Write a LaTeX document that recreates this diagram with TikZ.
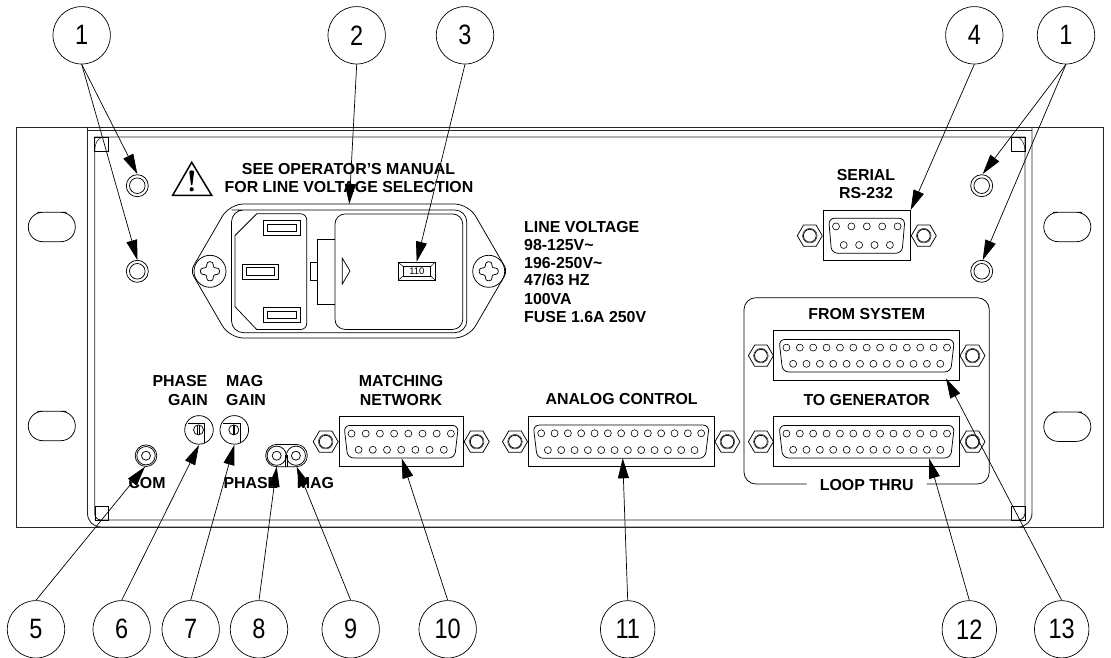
\documentclass[tikz,border=0pt]{standalone}
\usepackage{fontspec}
\setmainfont{Liberation Sans}
\usetikzlibrary{arrows.meta,shapes.geometric}
\newcommand{\narrowdigits}[1]{\scalebox{.84}[1]{#1}}
\tikzset{
  panel/.style={line width=.9pt,draw=black!85},
  part/.style={line width=.75pt,draw=black},
  leaderline/.style={line width=.7pt,-{Triangle[length=20pt,width=11pt]}},
  balloon/.style={draw,line width=.7pt,ellipse,minimum width=57.4pt,minimum height=57.4pt,inner sep=0pt,font=\fontsize{28}{30}\selectfont},
  balloonn/.style={balloon,minimum width=54.4pt},
  lbl/.style={inner sep=0pt,font=\fontsize{15.9}{18}\bfseries\selectfont,anchor=base},
  lbll/.style={lbl,anchor=base west},
  lblr/.style={lbl,anchor=base east},
}
\newcommand{\hexnut}[2]{%
  \draw[part] (#1-12.5,#2) -- (#1-6.3,#2-10.6) -- (#1+6.3,#2-10.6) -- (#1+12.5,#2) -- (#1+6.3,#2+10.6) -- (#1-6.3,#2+10.6) -- cycle;
  \draw[part] (#1,#2) circle[radius=6.4];
  \draw[part,line width=.4pt] (#1,#2) circle[radius=7.3];
}
% cx cy rect-half shell-top-half shell-bottom-half nut-offset n pitch shell-half-height
\newcommand{\dsubconn}[9]{%
  \draw[part] (#1-#3,#2-25) rectangle (#1+#3,#2+25);
  \draw[part,rounded corners=6pt] (#1-#4,#2-#9) -- (#1+#4,#2-#9) -- (#1+#5,#2+#9) -- (#1-#5,#2+#9) -- cycle;
  \foreach \i in {1,...,#7}{\draw[part,line width=.6pt] (#1+\i*#8-#7*#8/2-#8/2,#2-#9+8.2) circle[radius=3.5];}
  \pgfmathtruncatemacro{\nb}{#7-1}
  \foreach \i in {1,...,\nb}{\draw[part,line width=.6pt] (#1+\i*#8-#7*#8/2,#2+#9-8.2) circle[radius=3.5];}
  \hexnut{#1-#6}{#2}
  \hexnut{#1+#6}{#2}
}
\newcommand{\stud}[2]{%
  \draw[part] (#1,#2) circle[radius=11];
  \draw[part] (#1,#2) circle[radius=7.8];
}
\newcommand{\slotb}[2]{%
  \draw[part,rounded corners=14.5pt] (#1,#2) -- ++(23.5,0) -- ++(0,29.4) -- ++(-47,0) -- ++(0,-29.4) -- cycle;
}
\newcommand{\cross}[2]{%
  \draw[part] (#1,#2) circle[radius=16];
  \draw[part,rounded corners=2.6pt] (#1-3.2,#2-9.5) -- (#1+3.2,#2-9.5) -- (#1+3.2,#2-3.2) -- (#1+9.5,#2-3.2) -- (#1+9.5,#2+3.2) -- (#1+3.2,#2+3.2) -- (#1+3.2,#2+9.5) -- (#1-3.2,#2+9.5) -- (#1-3.2,#2+3.2) -- (#1-9.5,#2+3.2) -- (#1-9.5,#2-3.2) -- (#1-3.2,#2-3.2) -- cycle;
}
\newcommand{\trim}[2]{%
  \draw[part] (#1,#2) circle[radius=14.3];
  \draw[part] (#1-11,#2-6.3) -- (#1+5.6,#2-6.3) -- (#1+5.6,#2+13.2);
  \draw[part] (#1-.5,#2) circle[radius=5];
  \draw[part,line width=.5pt] (#1-1.4,#2-5) -- (#1-1.4,#2+5) (#1+.4,#2-5) -- (#1+.4,#2+5);
}
\newcommand{\pinblade}[3]{%
  \draw[part] (#1,#2) rectangle (#1+#3,#2+15);
  \draw[part] (#1+3.8,#2+3.7) rectangle (#1+#3-3.8,#2+11);
}
\begin{document}
\begin{tikzpicture}[x=1pt,y=-1pt]
\useasboundingbox (0,0) rectangle (1111,658);
% panel
\draw[panel] (16,127) rectangle (1103,527);
\draw[panel] (87.5,127) -- (87.5,513) .. controls (87.5,521) and (93,527) .. (101,527) -- (1018,527) .. controls (1026,527) and (1032,521) .. (1032,513) -- (1032,127);
\draw[panel] (87.5,130.7) -- (1032,130.7);
\draw[panel] (94.7,137) -- (94.7,513) .. controls (94.7,517) and (97,520) .. (101,520) -- (1018,520) .. controls (1022,520) and (1025,517) .. (1025,513) -- (1025,137) -- cycle;
% corner tabs
\draw[part,line width=.45pt] (94.7,137) rectangle (108.7,151.7);
\draw[part,line width=.45pt] (94.7,151.2) .. controls (95,143) and (97.5,138) .. (103,137);
\draw[part,line width=.45pt] (1011,137) rectangle (1025,151.7);
\draw[part,line width=.45pt] (1025,151.2) .. controls (1024.7,143) and (1022,138) .. (1016.5,137);
\draw[part,line width=.45pt] (95,506) rectangle (108.5,520);
\draw[part,line width=.45pt] (1011,506) rectangle (1025,520);
% rack slots
\slotb{51.8}{212.3}
\slotb{51.8}{411.3}
\slotb{1067.3}{212.3}
\slotb{1067.3}{412}
% mounting studs
\stud{137.3}{185.7}
\stud{137.3}{271.3}
\stud{981.7}{185.7}
\stud{981.7}{271.3}
% warning triangle
\draw[line width=1.5pt,line join=miter] (191.7,162.3) -- (211.7,195.3) -- (172.7,195.3) -- cycle;
\fill (189.3,171.7) .. controls (189.3,170) and (194.1,170) .. (194.1,171.7) -- (192.4,185) -- (191,185) -- cycle;
\fill (191.7,189.3) circle[radius=2.1];
% power entry module
\draw[part] (349,204) [rounded corners=14pt] -- (229.5,204) [rounded corners=6pt] -- (190.6,271) [rounded corners=14pt] -- (229.5,338) -- (468.5,338) [rounded corners=6pt] -- (507.4,271) [rounded corners=14pt] -- (468.5,204) [sharp corners] -- (349,204);
\draw[part] (231.5,210) [rounded corners=12pt] -- (466.8,210) -- (466.8,332.7) -- (231.5,332.7) -- (231.5,210) -- (300,210);
\draw[part] (256.7,213.8) [rounded corners=6pt] -- (306.7,213.8) -- (306.7,329.5) [sharp corners] -- (256.7,329.5) -- (235,306.7) -- (235,235.5) -- cycle;
\pinblade{263.3}{220.7}{36.7}
\pinblade{242.3}{264}{36}
\pinblade{263.3}{307.3}{36.7}
\draw[part] (317.3,239.3) rectangle (335,304);
\draw[part] (310,262.3) rectangle (317.3,280);
\draw[part,rounded corners=10pt,fill=white] (335,214) rectangle (462.7,329.4);
\draw[part] (342.3,258.3) -- (350,271) -- (342.3,284) -- cycle;
\draw[part,line width=1pt] (398.3,262.3) rectangle (435,280);
\draw[part] (403.3,266.7) rectangle (430.7,276);
\draw[part,line width=.5pt] (398.3,262.3) -- (403.3,266.7) (435,262.3) -- (430.7,266.7) (398.3,280) -- (403.3,276) (435,280) -- (430.7,276);
\node[inner sep=0pt,font=\fontsize{9.5}{10}\selectfont] (fuseval) at (416.9,271.4) {110};
\cross{210}{271.3}
\cross{488.7}{271.3}
% connectors
\dsubconn{866.8}{235.7}{43.5}{38.2}{35.2}{57}{5}{15.4}{17.5}
\dsubconn{401.2}{441.7}{62.2}{57.2}{53.5}{75.5}{8}{14.2}{16.3}
\dsubconn{621.2}{441.7}{92.8}{88}{84}{106.2}{13}{13.33}{16.6}
\dsubconn{866.7}{355.7}{93}{87.7}{84}{105.8}{13}{13.38}{16.3}
\dsubconn{866.7}{441.7}{93}{87.7}{84}{105.8}{13}{13.38}{16.3}
% loop-through box
\draw[part] (806.7,484) [rounded corners=12pt] -- (744,484) -- (744,297.7) -- (989.3,297.7) -- (989.3,484) [sharp corners] -- (926.7,484);
% COM jack
\draw[part] (146,455.7) circle[radius=10.8];
\draw[part] (146,455.7) circle[radius=9.2];
\draw[part] (146,455.7) circle[radius=4.5];
% trimmers
\trim{199}{429.9}
\trim{234.3}{429.9}
% LEDs
\draw[part,rounded corners=11pt] (265.7,444.4) rectangle (307.3,466.7);
\draw[part] (276.7,455.7) circle[radius=9.6];
\draw[part] (295.9,455.7) circle[radius=9.6];
\draw[part] (276.7,455.7) circle[radius=4.5];
\draw[part] (295.9,455.7) circle[radius=4.5];
\draw[part,line width=.5pt] (285.6,455) -- (285.6,466.7) (287.2,455) -- (287.2,466.7);
% texts
\node[lbl] (t1) at (348.5,175) {SEE OPERATOR'S MANUAL};
\node[lbl] (t2) at (349,193) {FOR LINE VOLTAGE SELECTION};
\node[lbll] (v1) at (524,232) {LINE VOLTAGE};
\node[lbll] (v2) at (524,250) {98-125V\char`\~};
\node[lbll] (v3) at (524,268.2) {196-250V\char`\~};
\node[lbll] (v4) at (524,285.8) {47/63 HZ};
\node[lbll] (v5) at (524,304) {100VA};
\node[lbll] (v6) at (524,322) {FUSE 1.6A 250V};
\node[lbl] (ser1) at (866,180) {SERIAL};
\node[lbl] (ser2) at (866,198) {RS-232};
\node[lbl] (fs) at (866.7,319.3) {FROM SYSTEM};
\node[lbl] (tg) at (866.7,405) {TO GENERATOR};
\node[lbl] (lt) at (866.7,490) {LOOP THRU};
\node[lbl] (ac) at (621.7,404.7) {ANALOG CONTROL};
\node[lbl] (mn1) at (401,386.7) {MATCHING};
\node[lbl] (mn2) at (401,405) {NETWORK};
\node[lblr] (pg1) at (207.5,386.7) {PHASE};
\node[lblr] (pg2) at (208,405) {GAIN};
\node[lbll] (mg1) at (226,386.7) {MAG};
\node[lbll] (mg2) at (226,405) {GAIN};
\node[lbll] (com) at (128.3,488.7) {COM};
\node[lbll] (ph) at (223.3,488.7) {PHASE};
\node[lbll] (mg) at (296.7,488.7) {MAG};
% balloons
\node[balloon] (b1a) at (81.7,35.3) {\narrowdigits{1}};
\node[balloon] (b2) at (356.7,35.3) {\narrowdigits{2}};
\node[balloon] (b3) at (465,35.3) {\narrowdigits{3}};
\node[balloon] (b4) at (974.3,35.3) {\narrowdigits{4}};
\node[balloon] (b1b) at (1066,35.3) {\narrowdigits{1}};
\node[balloon] (b5) at (36,629.3) {\narrowdigits{5}};
\node[balloon] (b6) at (121.7,629.3) {\narrowdigits{6}};
\node[balloon] (b7) at (190.7,629.3) {\narrowdigits{7}};
\node[balloon] (b8) at (259,629.3) {\narrowdigits{8}};
\node[balloon] (b9) at (350.7,629.3) {\narrowdigits{9}};
\node[balloon] (b10) at (447.7,629.3) {\narrowdigits{10}};
\node[balloonn] (b11) at (627.7,629.3) {\narrowdigits{11}};
\node[balloonn] (b12) at (969.3,629.3) {\narrowdigits{12}};
\node[balloonn] (b13) at (1061.7,629.3) {\narrowdigits{13}};
% leader targets
\coordinate (s1) at (137.3,174);
\coordinate (s2) at (137.3,260);
\coordinate (s3) at (982.7,174);
\coordinate (s4) at (982.7,260);
\coordinate (p2) at (349.3,204);
\coordinate (p3) at (416.7,261.7);
\coordinate (p4) at (910.7,210);
\coordinate (p5) at (145,466.7);
\coordinate (p6) at (199,445);
\coordinate (p7) at (234.3,445);
\coordinate (p8) at (276.7,466.7);
\coordinate (p9) at (296.7,466.7);
\coordinate (p10) at (401.7,458.3);
\coordinate (p11) at (622.7,458.3);
\coordinate (p12) at (929,458.3);
\coordinate (p13) at (946,378.3);
% leaders
\draw[leaderline] (b1a.south) -- (s1);
\draw[leaderline] (b1a.south) -- (s2);
\draw[leaderline] (b2.south) -- (p2);
\draw[leaderline] (b3.south) -- (p3);
\draw[leaderline] (b4.south) -- (p4);
\draw[leaderline] (b1b.south) -- (s3);
\draw[leaderline] (b1b.south) -- (s4);
\draw[leaderline] (b5.north) -- (p5);
\draw[leaderline] (b6.north) -- (p6);
\draw[leaderline] (b7.north) -- (p7);
\draw[leaderline] (b8.north) -- (p8);
\draw[leaderline] (b9.north) -- (p9);
\draw[leaderline] (b10.north) -- (p10);
\draw[leaderline] (b11.north) -- (p11);
\draw[leaderline] (b12.north) -- (p12);
\draw[leaderline] (b13.north) -- (p13);
\end{tikzpicture}
\end{document}
